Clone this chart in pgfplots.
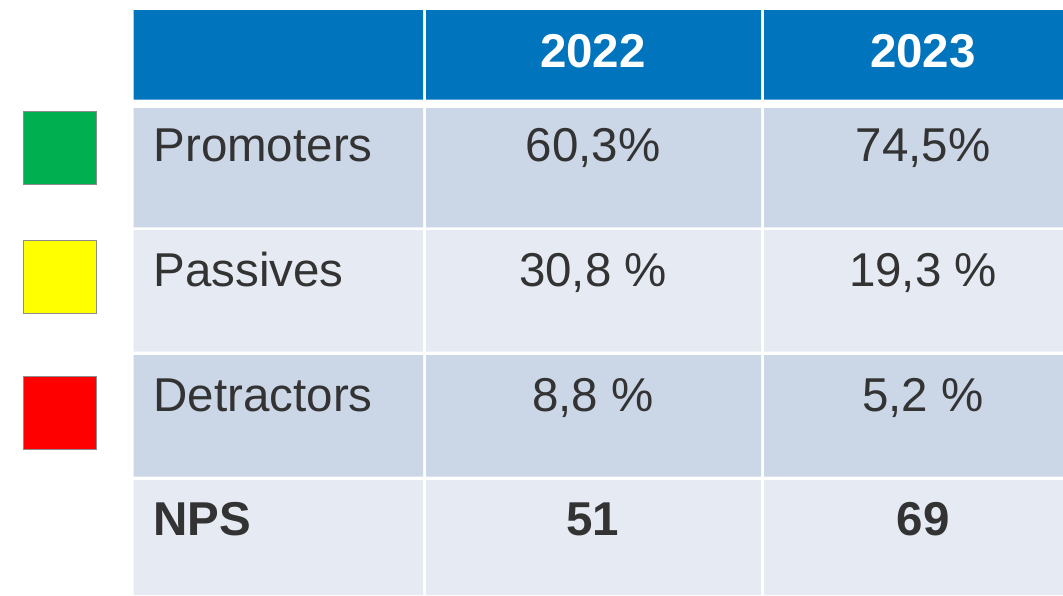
\documentclass[border=0pt]{standalone}
\usepackage{pgfplots}
\pgfplotsset{compat=1.18}
\usepackage{fontspec}
\setmainfont{Liberation Sans}
\definecolor{hdr}{HTML}{0074BC}
\definecolor{rowA}{HTML}{CBD6E6}
\definecolor{rowB}{HTML}{E6EAF3}
\definecolor{txt}{HTML}{333333}
\definecolor{sqborder}{HTML}{8C8C8C}
\definecolor{promo}{HTML}{00AF50}
\definecolor{passv}{HTML}{FFFF00}
\definecolor{detr}{HTML}{FF0000}
\tikzset{
  cell/.style={font=\fontsize{47.5}{57}\selectfont, text=txt, inner sep=0pt},
  bcell/.style={font=\fontsize{47.5}{57}\selectfont\bfseries, text=txt, inner sep=0pt},
  hcell/.style={font=\fontsize{47.5}{57}\selectfont\bfseries, text=white, inner sep=0pt},
}
\begin{document}
\begin{tikzpicture}
\begin{axis}[
  x=1pt, y=1pt, y dir=reverse,
  xmin=0, xmax=1063, ymin=0, ymax=595,
  hide axis, scale only axis,
  clip=true,
]
% white background
\addplot[fill=white, draw=none] coordinates {(0,0) (1063,0) (1063,595) (0,595) (0,0)};
% header row
\addplot[fill=hdr, draw=none] coordinates {(133.7,10) (423,10) (423,99.7) (133.7,99.7) (133.7,10)};
\addplot[fill=hdr, draw=none] coordinates {(426,10) (761,10) (761,99.7) (426,99.7) (426,10)};
\addplot[fill=hdr, draw=none] coordinates {(764,10) (1063,10) (1063,99.7) (764,99.7) (764,10)};
% Promoters row
\addplot[fill=rowA, draw=none] coordinates {(133.7,108) (423,108) (423,227.3) (133.7,227.3) (133.7,108)};
\addplot[fill=rowA, draw=none] coordinates {(426,108) (761,108) (761,227.3) (426,227.3) (426,108)};
\addplot[fill=rowA, draw=none] coordinates {(764,108) (1063,108) (1063,227.3) (764,227.3) (764,108)};
% Passives row
\addplot[fill=rowB, draw=none] coordinates {(133.7,230) (423,230) (423,351.7) (133.7,351.7) (133.7,230)};
\addplot[fill=rowB, draw=none] coordinates {(426,230) (761,230) (761,351.7) (426,351.7) (426,230)};
\addplot[fill=rowB, draw=none] coordinates {(764,230) (1063,230) (1063,351.7) (764,351.7) (764,230)};
% Detractors row
\addplot[fill=rowA, draw=none] coordinates {(133.7,355) (423,355) (423,476.7) (133.7,476.7) (133.7,355)};
\addplot[fill=rowA, draw=none] coordinates {(426,355) (761,355) (761,476.7) (426,476.7) (426,355)};
\addplot[fill=rowA, draw=none] coordinates {(764,355) (1063,355) (1063,476.7) (764,476.7) (764,355)};
% NPS row
\addplot[fill=rowB, draw=none] coordinates {(133.7,480) (423,480) (423,595) (133.7,595) (133.7,480)};
\addplot[fill=rowB, draw=none] coordinates {(426,480) (761,480) (761,595) (426,595) (426,480)};
\addplot[fill=rowB, draw=none] coordinates {(764,480) (1063,480) (1063,595) (764,595) (764,480)};
% colour squares
\addplot[only marks, mark=square*, mark size=36.5pt, mark options={fill=promo, draw=sqborder, line width=1pt}] coordinates {(59.8,148)};
\addplot[only marks, mark=square*, mark size=36.5pt, mark options={fill=passv, draw=sqborder, line width=1pt}] coordinates {(59.8,277)};
\addplot[only marks, mark=square*, mark size=36.5pt, mark options={fill=detr, draw=sqborder, line width=1pt}] coordinates {(59.8,413)};
% header text
\node[hcell, anchor=base] at (axis cs:593,67) {2022};
\node[hcell, anchor=base] at (axis cs:923,67) {2023};
% row labels
\node[cell, anchor=base west] at (axis cs:153.3,161) {Promoters};
\node[cell, anchor=base west] at (axis cs:153.3,286) {Passives};
\node[cell, anchor=base west] at (axis cs:153.3,411) {Detractors};
\node[bcell, anchor=base west] at (axis cs:153.3,535) {NPS};
% values
\node[cell, anchor=base] at (axis cs:593,161) {60,3\%};
\node[cell, anchor=base] at (axis cs:923,161) {74,5\%};
\node[cell, anchor=base] at (axis cs:593,286) {30,8 \%};
\node[cell, anchor=base] at (axis cs:923,286) {19,3 \%};
\node[cell, anchor=base] at (axis cs:593,411) {8,8 \%};
\node[cell, anchor=base] at (axis cs:923,411) {5,2 \%};
\node[bcell, anchor=base] at (axis cs:593,535) {51};
\node[bcell, anchor=base] at (axis cs:923,535) {69};
\end{axis}
\end{tikzpicture}
\end{document}
